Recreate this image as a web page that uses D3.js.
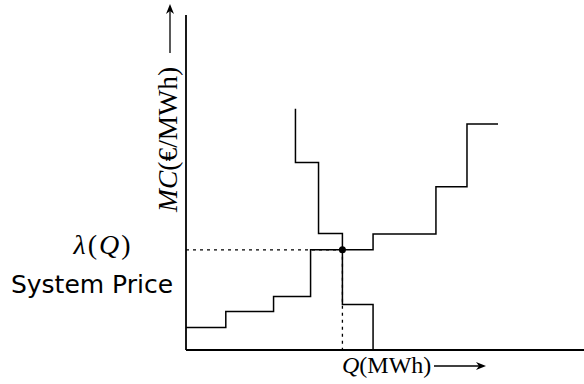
<!DOCTYPE html>
<head>
<meta charset="UTF-8">
<script type="text/javascript" src="https://cdnjs.cloudflare.com/ajax/libs/d3/7.8.5/d3.min.js"></script>
<style>
body{margin:0;background:#fff;}
.serif{font-family:"Liberation Serif",serif;}
.sans{font-family:"DejaVu Sans",sans-serif;}
</style>
</head>
<body>
<div id="chart"></div>
<script type="text/javascript">
var width=584, height=384;

// supply curve (rising steps): quantity break points and price levels
var supplyQ=[0,10,22,31.3,47,62.8,70.6,78.4];
var supplyP=[6.7,11.5,16,29.9,34.6,48.7,67.5];
// demand curve (falling steps)
var demandQ=[27.5,33.3,39.3,47,58.8];
var demandP=[72,56,34.8,13.6,0];
var eqQ=39.3, eqP=29.9; //market clearing point

var x=d3.scaleLinear().domain([0,100]).range([186,584]);
var y=d3.scaleLinear().domain([0,100]).range([350,15]);

var svg=d3.select("#chart").append("svg").attr("width",width).attr("height",height);

// supply: flat across each block, then step up
var supplyPts=[];
for(var i=0;i<supplyP.length;i++){
  supplyPts.push([supplyQ[i],supplyP[i]]);
  supplyPts.push([supplyQ[i+1],supplyP[i]]);
}
// demand: drop to next level, then go right
var demandPts=[[demandQ[0],demandP[0]]];
for(var i=1;i<demandP.length;i++){
  demandPts.push([demandQ[i-1],demandP[i]]);
  if(i<demandQ.length) demandPts.push([demandQ[i],demandP[i]]);
}

var line=d3.line().x(function(d){return x(d[0]);}).y(function(d){return y(d[1]);});

// dashed guides
svg.append("line").attr("x1",x(0)).attr("x2",x(eqQ)).attr("y1",y(eqP)).attr("y2",y(eqP))
  .attr("stroke","#000").attr("stroke-width",1.3).attr("stroke-dasharray","3,4");
svg.append("line").attr("x1",x(eqQ)).attr("x2",x(eqQ)).attr("y1",y(eqP)).attr("y2",y(0))
  .attr("stroke","#000").attr("stroke-width",1.3).attr("stroke-dasharray","3,4");

svg.append("path").attr("d",line(supplyPts)).attr("fill","none").attr("stroke","#000").attr("stroke-width",1.5);
svg.append("path").attr("d",line(demandPts)).attr("fill","none").attr("stroke","#000").attr("stroke-width",1.5);

svg.append("circle").attr("cx",x(eqQ)).attr("cy",y(eqP)).attr("r",3.5).attr("fill","#000");

// axes
svg.append("line").attr("x1",x(0)).attr("x2",x(0)).attr("y1",y(0)).attr("y2",y(100))
  .attr("stroke","#000").attr("stroke-width",1.8);
svg.append("line").attr("x1",x(0)).attr("x2",x(100)).attr("y1",y(0)).attr("y2",y(0))
  .attr("stroke","#000").attr("stroke-width",1.8);

function arrow(g,x1,x2,yy){
  g.append("line").attr("x1",x1).attr("x2",x2-4).attr("y1",yy).attr("y2",yy).attr("stroke","#000").attr("stroke-width",1.3);
  g.append("path").attr("d","M"+x2+","+yy+"L"+(x2-10)+","+(yy-4)+"L"+(x2-7)+","+yy+"L"+(x2-10)+","+(yy+4)+"Z").attr("fill","#000");
}

// y label
var yl=svg.append("g").attr("transform","translate(177,212) rotate(-90)");
var yt=yl.append("text").attr("class","serif").attr("font-size",27.5).attr("x",0).attr("y",0);
yt.append("tspan").attr("font-style","italic").text("MC");
yt.append("tspan").text("(€/MWh)");
arrow(yl,159,208,-7);

// x label
var xt=svg.append("text").attr("class","serif").attr("font-size",24).attr("x",342).attr("y",373);
xt.append("tspan").attr("font-style","italic").text("Q");
xt.append("tspan").text("(MWh)");
arrow(svg,434,486,366);

// price label
var lt=svg.append("text").attr("class","serif").attr("font-size",28).attr("letter-spacing",2).attr("x",103).attr("y",254).attr("text-anchor","middle");
lt.append("tspan").attr("font-style","italic").text("λ");
lt.append("tspan").text("(");
lt.append("tspan").attr("font-style","italic").text("Q");
lt.append("tspan").text(")");
svg.append("text").attr("class","sans").attr("font-size",25).attr("x",92).attr("y",293).attr("text-anchor","middle").text("System Price");
</script>
</body>
</html>
